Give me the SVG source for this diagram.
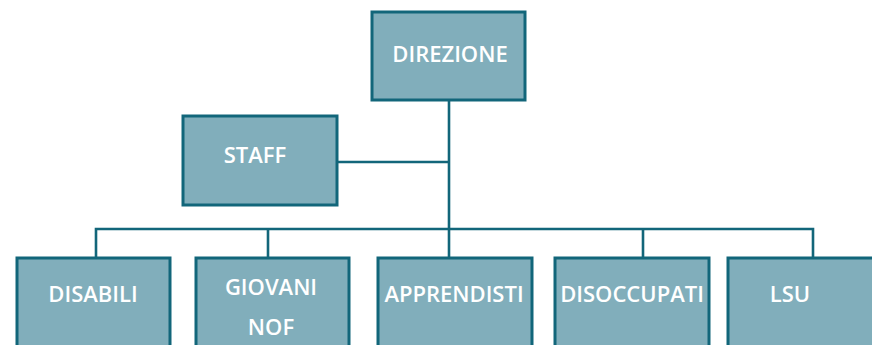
<svg xmlns="http://www.w3.org/2000/svg" width="872" height="345" viewBox="0 0 872 345">
  <style>
    .box { fill: #81aebb; stroke: #12667a; stroke-width: 3; }
    .lbl { fill: #ffffff; font-family: "Open Sans", "Liberation Sans", sans-serif; font-weight: 600; font-size: 22px; text-anchor: middle; }
    .wire { fill: none; stroke: #12667a; stroke-width: 2.6; }
  </style>
  <rect width="872" height="345" fill="#ffffff"/>

  <g id="connectors">
    <path class="wire" d="M449 100 V258"/>
    <path class="wire" d="M338 162 H449"/>
    <path class="wire" d="M96 258 V229 H813 V258"/>
    <path class="wire" d="M268 229 V258"/>
    <path class="wire" d="M643 229 V258"/>
  </g>

  <g id="direzione">
    <rect class="box" x="372" y="12" width="153" height="88"/>
    <text class="lbl" x="450" y="62">DIREZIONE</text>
  </g>
  <g id="staff">
    <rect class="box" x="183" y="116" width="154" height="89"/>
    <text class="lbl" x="255" y="163">STAFF</text>
  </g>
  <g id="disabili">
    <rect class="box" x="17" y="258" width="153" height="95"/>
    <text class="lbl" x="93" y="302">DISABILI</text>
  </g>
  <g id="giovani-nof">
    <rect class="box" x="196" y="258" width="153" height="95"/>
    <text class="lbl" x="271" y="295">GIOVANI</text>
    <text class="lbl" x="271" y="335">NOF</text>
  </g>
  <g id="apprendisti">
    <rect class="box" x="378" y="258" width="154" height="95"/>
    <text class="lbl" x="454" y="302">APPRENDISTI</text>
  </g>
  <g id="disoccupati">
    <rect class="box" x="555" y="258" width="154" height="95"/>
    <text class="lbl" x="632" y="302">DISOCCUPATI</text>
  </g>
  <g id="lsu">
    <rect class="box" x="728" y="258" width="154" height="95"/>
    <text class="lbl" x="790" y="302">LSU</text>
  </g>
</svg>
